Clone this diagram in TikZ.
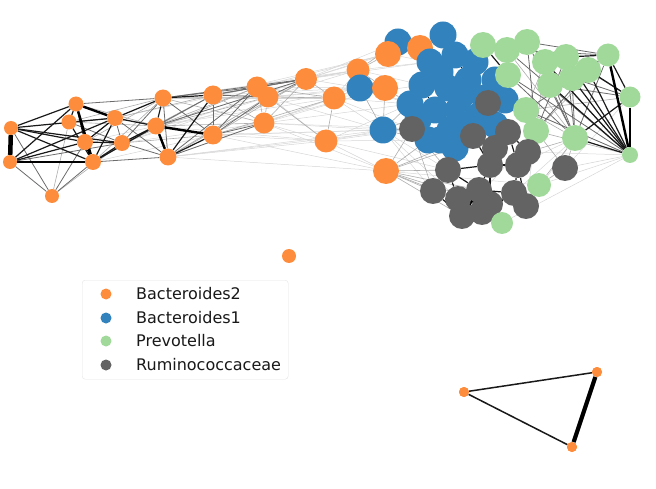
\documentclass[tikz,border=0pt]{standalone}
\usepackage{fontspec}
\setmainfont{DejaVu Sans}
\usetikzlibrary{backgrounds}
\definecolor{cOr}{HTML}{FD8D3C}
\definecolor{cBl}{HTML}{3182BD}
\definecolor{cGr}{HTML}{A1D99B}
\definecolor{cGy}{HTML}{636363}
\tikzset{
  vtx/.style={circle, inner sep=0pt, draw=none, minimum size=#1},
  orn/.style={vtx=#1, fill=cOr}, orn/.default=26pt,
  bln/.style={vtx=#1, fill=cBl}, bln/.default=27pt,
  grn/.style={vtx=#1, fill=cGr}, grn/.default=26pt,
  gyn/.style={vtx=#1, fill=cGy}, gyn/.default=26pt,
  e0/.style={draw=black!16, line width=0.5pt},
  e1/.style={draw=black!32, line width=0.6pt},
  e2/.style={draw=black!58, line width=0.8pt},
  e3/.style={draw=black!90, line width=1.2pt},
  e4/.style={draw=black, line width=2.4pt},
  e5/.style={draw=black, line width=4.5pt},
  legtext/.style={anchor=west, inner sep=0pt, font=\fontsize{16}{19}\selectfont, text=black!90},
}
\begin{document}
\begin{tikzpicture}[x=1pt, y=-1pt]
\useasboundingbox (0,0) rectangle (656,489);
% ---- left orange chain
\node[orn=14pt] (a1) at (11,128) {};
\node[orn=14pt] (a2) at (10,162) {};
\node[orn=14pt] (a3) at (52,196) {};
\node[orn=15pt] (a4) at (76,104) {};
\node[orn=15pt] (a5) at (69,122) {};
\node[orn=16pt] (a6) at (85,142) {};
\node[orn=16pt] (a7) at (93,162) {};
\node[orn=16pt] (a8) at (115,118) {};
\node[orn=16pt] (a9) at (122,143) {};
\node[orn=17pt] (a10) at (163,98) {};
\node[orn=17pt] (a11) at (156,126) {};
\node[orn=17pt] (a12) at (168,157) {};
\node[orn=19pt] (a13) at (213,95) {};
\node[orn=19pt] (a14) at (213,135) {};
\node[orn=21pt] (a15) at (257,87) {};
\node[orn=21pt] (a16) at (268,97) {};
\node[orn=21pt] (a17) at (264,123) {};
\node[orn=22pt] (a18) at (306,79) {};
\node[orn=23pt] (a19) at (326,141) {};
\node[orn=23pt] (a20) at (334,98) {};
% ---- cluster
\node[orn=23pt] (o1) at (358,70) {};
\node[bln] (b1) at (398,42) {};
\node[orn] (o2) at (388,54) {};
\node[bln] (b2) at (443,35) {};
\node[orn] (o3) at (420,48) {};
\node[bln] (b3) at (360,88) {};
\node[bln] (b4) at (383,130) {};
\node[orn=20pt] (o6) at (477,94) {};
\node[bln] (c1) at (430,62) {};
\node[bln] (c2) at (455,55) {};
\node[bln] (c3) at (475,62) {};
\node[bln] (c4) at (495,80) {};
\node[bln] (c5) at (422,85) {};
\node[bln] (c6) at (448,88) {};
\node[bln] (c7) at (468,80) {};
\node[bln] (c8) at (410,104) {};
\node[bln] (c9) at (435,110) {};
\node[bln] (c10) at (458,110) {};
\node[bln] (c11) at (480,115) {};
\node[bln] (c12) at (505,100) {};
\node[bln] (c13) at (428,140) {};
\node[bln] (c14) at (450,130) {};
\node[bln] (c15) at (455,148) {};
\node[bln] (c16) at (495,125) {};
\node[bln] (c17) at (440,72) {};
\node[bln] (c18) at (485,98) {};
\node[bln] (c19) at (462,95) {};
\node[bln] (c20) at (470,125) {};
\node[bln] (c21) at (440,140) {};
\node[bln] (c22) at (418,120) {};
\node[orn] (o4) at (385,88) {};
\node[orn] (o5) at (386,171) {};
% greens
\node[grn] (g1) at (483,45) {};
\node[grn] (g2) at (507,50) {};
\node[grn] (g3) at (527,42) {};
\node[grn] (g4) at (545,62) {};
\node[grn] (g5) at (508,75) {};
\node[grn] (g6) at (566,57) {};
\node[grn] (g7) at (550,85) {};
\node[grn] (g8) at (572,78) {};
\node[grn] (g9) at (588,70) {};
\node[grn=23pt] (g10) at (608,55) {};
\node[grn=21pt] (g11) at (630,97) {};
\node[grn] (g12) at (526,110) {};
\node[grn] (g13) at (536,131) {};
\node[grn] (g14) at (575,138) {};
\node[grn=16pt] (g15) at (630,155) {};
% grays
\node[gyn] (k1) at (488,103) {};
\node[gyn] (k2) at (412,129) {};
\node[gyn] (k3) at (473,136) {};
\node[gyn] (k4) at (508,132) {};
\node[gyn] (k5) at (528,152) {};
\node[gyn] (k6) at (490,165) {};
\node[gyn] (k7) at (518,165) {};
\node[gyn] (k8) at (448,170) {};
\node[gyn] (k9) at (565,168) {};
\node[gyn] (k10) at (433,191) {};
\node[gyn] (k11) at (479,190) {};
\node[gyn] (k12) at (458,199) {};
\node[gyn] (k13) at (514,193) {};
\node[gyn] (k14) at (490,204) {};
\node[gyn] (k15) at (526,206) {};
\node[gyn] (k16) at (462,216) {};
\node[gyn] (k17) at (482,212) {};
\node[gyn] (k18) at (495,148) {};
\node[grn=24pt] (g16) at (539,185) {};
\node[grn=22pt] (g17) at (502,223) {};
% isolated + triangle
\node[orn=14pt] (iso) at (289,256) {};
\node[orn=10pt] (t1) at (464,392) {};
\node[orn=10pt] (t2) at (597,372) {};
\node[orn=10pt] (t3) at (572,447) {};

\begin{scope}[on background layer]
% faint long edges
\foreach \u/\v in {a15/o1,a15/b3,a16/o1,a16/b3,a17/b3,a17/b4,a18/o1,a18/o2,a18/b3,a18/b1,a20/o1,a20/b3,a20/b4,a20/k2,a19/b4,a19/k2,a19/o5,a12/a19,a14/a19,a17/a19,a12/b4,a14/b4,a10/o1,a13/o1,a13/b3,a16/b4,a13/a20,a15/a19,a18/c1,a20/c5,a19/c8,a17/c8,a14/k2,a12/k2,a17/o4,a16/o4,a18/b2,a15/o2,a13/o2,a10/a20,a11/a19,a11/a20,a9/a17,a8/a15,a12/o5,a17/o5,a14/o5,b4/k10,b4/k8,b4/k12,o5/g16,k9/g15,k5/g15,k9/g11,g16/g15,k15/g14,k13/g14,k7/g14,g17/g15,k16/g9,g12/g15,o1/c1,o1/c5,b3/c8,b3/c9,o2/c1,k15/g13,a9/a18,a11/a18,a12/a20,a14/o4,a19/c13,a20/c8,a19/k8,a17/k2,a11/b3,a12/a16,a9/a16,a7/a14,a6/a11}
  \draw[e0] (\u) -- (\v);
\foreach \u/\v in {a7/a13,a9/a13,a9/a14,a5/a10,a11/a15,a11/a16,a11/a17,a13/a17,a15/a16,a16/a17,a15/a17,a17/a18,a15/a20,a16/a20,a14/a18,a3/a9,a3/a5,a12/a18,a14/a20,a18/a20,a19/a20,a16/a19,a8/a13,a8/a14,a6/a10,a7/a10,a4/a11,a5/a11,a9/a15,a10/a16,a10/a17,a12/a16,
  o5/k2,o5/k8,o5/k10,o5/k12,o5/k16,o5/k11,o5/c13,o5/k3,o5/k14,o5/c15,b4/k2,b4/c13,b4/c8,b4/o4,b4/c9,b3/o4,o1/o4,o1/b1,o1/o2,b3/b4,o4/c8,k2/k8,k2/k10,
  g14/g2,g14/k9,g14/g12,g13/g10,g14/k5,g12/g11,g13/g15,g16/g14,k9/g13,k9/g16,g12/g4,g13/g4}
  \draw[e1] (\u) -- (\v);
\foreach \u/\v in {a1/a3,a2/a3,a3/a6,a3/a7,a5/a8,a5/a9,a2/a9,a4/a10,a8/a9,a9/a12,a7/a12,a8/a12,a10/a12,a10/a14,a11/a13,a13/a14,a13/a15,a13/a16,a14/a15,a14/a16,a14/a17,a10/a15,a10/a18,a12/a15,a12/a17,a13/a18,a15/a18,a16/a18,a9/a10,a11/a18,
  g10/g3,g10/g2,g10/g14,g11/g8,g11/g7,g11/g6,g15/g5,g15/g12,g15/g3,g15/g2,g14/g7,g14/g8,g14/g6,g14/g3,g14/g5,g13/g6,g13/g3,g12/g9,g13/g9,g14/g4}
  \draw[e2] (\u) -- (\v);
\foreach \u/\v in {a1/a4,a1/a6,a1/a7,a1/a8,a1/a9,a2/a4,a2/a8,a2/a6,a4/a5,a4/a6,a6/a8,a6/a9,a7/a8,a7/a9,a5/a7,a8/a10,a10/a11,a10/a13,a12/a13,a8/a11,a9/a11,a7/a11,a12/a14,
  g10/g11,g10/g6,g10/g9,g10/g8,g11/g14,g11/g9,g15/g14,g15/g8,g15/g7,g15/g6,g15/g9,g15/g4,
  c5/c6,c6/c9,c9/c10,c10/c14,c17/c6,c2/c7,c7/c10,c5/c9,c9/c14,c11/c10,k2/c13,k3/c14,k1/c11,k1/c16,
  k3/k6,k3/k4,k6/k7,k6/k11,k4/k5,k5/k7,k7/k13,k8/k12,k8/k11,k10/k12,k11/k14,k12/k16,k12/k17,k14/k13,k13/k15,k16/k17,k17/k14,k11/k13,k6/k14,k8/k6,k3/k8,k7/k15,k4/k7,k16/k14,k10/k16,k11/k17,k11/k12,
  g1/g5,g2/g5,c4/g5,c12/k1,o6/c4}
  \draw[e3] (\u) -- (\v);
\foreach \u/\v in {a4/a7,a4/a8,a2/a7,a6/a7,a11/a12,a11/a14,g10/g15,g11/g15,k12/k14,k17/k13,k11/k16}
  \draw[e4] (\u) -- (\v);
\draw[e5] (a1) -- (a2);
\end{scope}
\draw[e3,line width=1.5pt] (t1) -- (t2);
\draw[e3,line width=1.5pt] (t1) -- (t3);
\draw[draw=black, line width=4.2pt] (t2) -- (t3);
\node[orn=10pt] at (t1) {};
\node[orn=10pt] at (t2) {};
\node[orn=10pt] at (t3) {};

% ---- legend
\node[draw=black!10, fill=white, rounded corners=3pt, anchor=north west, minimum width=206pt, minimum height=99pt, inner sep=0pt] (legend) at (82,280) {};
\node[orn=11pt] (m1) at (106,294) {};
\node[bln=11pt] (m2) at (106,318) {};
\node[grn=11pt] (m3) at (106,341) {};
\node[gyn=11pt] (m4) at (106,365) {};
\node[legtext] (l1) at (136,294) {Bacteroides2};
\node[legtext] (l2) at (136,318) {Bacteroides1};
\node[legtext] (l3) at (136,341) {Prevotella};
\node[legtext] (l4) at (136,365) {Ruminococcaceae};
\end{tikzpicture}
\end{document}
